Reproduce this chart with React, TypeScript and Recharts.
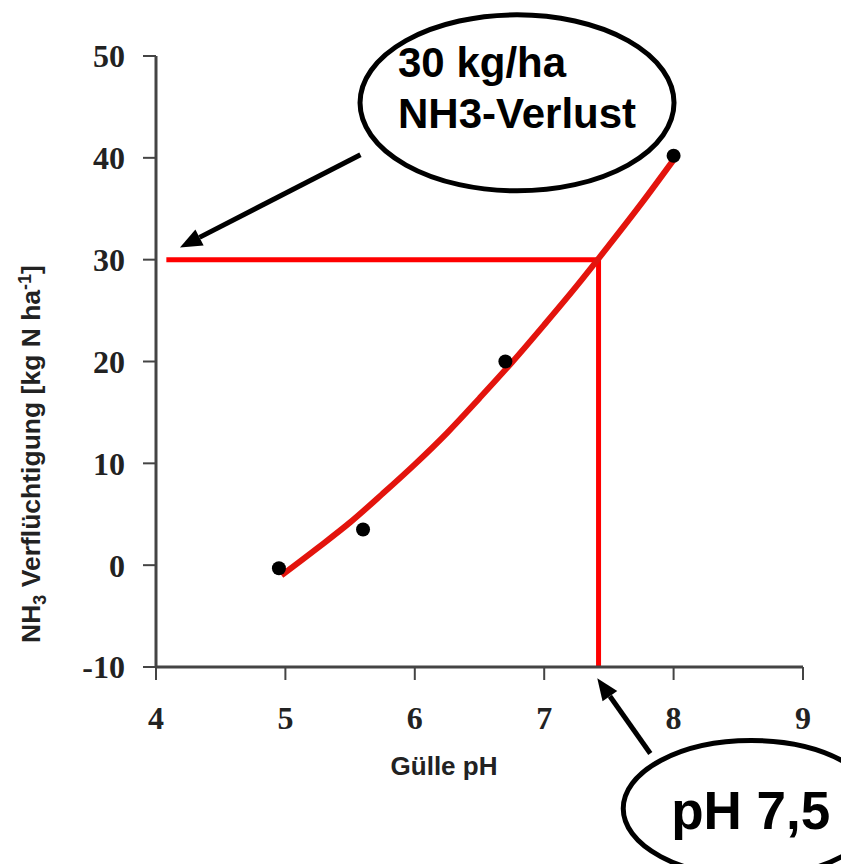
import React from 'react';
import {
  ComposedChart,
  Line,
  Scatter,
  XAxis,
  YAxis,
  ReferenceLine,
  ReferenceDot,
  Label,
} from 'recharts';

// ---- data ----
const xTicks = [4, 5, 6, 7, 8, 9];
const yTicks = [-10, 0, 10, 20, 30, 40, 50];

const measuredPH = [4.95, 5.6, 6.7, 8.0];
const measuredNH3 = [-0.3, 3.5, 20.0, 40.2];

const curvePH = [4.97, 5.25, 5.5, 5.75, 6.0, 6.25, 6.5, 6.75, 7.0, 7.25, 7.5, 7.75, 8.0];
const curveNH3 = [-1.0, 1.7, 4.2, 7.0, 9.9, 13.0, 16.4, 19.9, 23.6, 27.4, 31.4, 35.5, 39.8];

const targetPH = 7.42;
const targetNH3 = 30;
const guideStartPH = 4.08;

const lossNote = ['30 kg/ha', 'NH3-Verlust'];
const lossNoteAt = { x: 6.79, y: 45.4 };
const lossArrow = [{ x: 5.58, y: 40.3 }, { x: 4.185, y: 31.2 }];

const phNote = 'pH 7,5';
const phNoteAt = { x: 8.6, y: -23.9 };
const phArrow = [{ x: 7.82, y: -18.5 }, { x: 7.41, y: -11.1 }];

const xTitle = 'Gülle pH';

const curveData = curvePH.map((x, i) => ({ x, y: curveNH3[i] }));
const pointData = measuredPH.map((x, i) => ({ x, y: measuredNH3[i] }));

const SANS = '"Liberation Sans", Arial, sans-serif';
const SERIF = '"Liberation Serif", "Times New Roman", serif';
const AXIS = '#444';

const arrowShape = (props: any) => {
  const { x1, y1, x2, y2 } = props;
  const ang = Math.atan2(y2 - y1, x2 - x1);
  const len = 22;
  const half = 9;
  const bx = x2 - len * Math.cos(ang);
  const by = y2 - len * Math.sin(ang);
  const px = -Math.sin(ang) * half;
  const py = Math.cos(ang) * half;
  return (
    <g>
      <line x1={x1} y1={y1} x2={bx} y2={by} stroke="#000" strokeWidth={5} />
      <polygon points={`${x2},${y2} ${bx + px},${by + py} ${bx - px},${by - py}`} fill="#000" />
    </g>
  );
};

const lossBubble = (props: any) => {
  const { cx, cy } = props;
  return (
    <g>
      <ellipse cx={cx} cy={cy} rx={157} ry={88} fill="#fff" stroke="#000" strokeWidth={5} />
      <text x={cx - 119} y={cy - 26} fontFamily={SANS} fontWeight="bold" fontSize={42} fill="#000">
        {lossNote[0]}
      </text>
      <text x={cx - 119} y={cy + 25} fontFamily={SANS} fontWeight="bold" fontSize={42} fill="#000">
        {lossNote[1]}
      </text>
    </g>
  );
};

const phBubble = (props: any) => {
  const { cx, cy } = props;
  return (
    <g>
      <ellipse cx={cx} cy={cy} rx={128} ry={68} fill="#fff" stroke="#000" strokeWidth={5} />
      <text x={cx - 80} y={cy + 20} fontFamily={SANS} fontWeight="bold" fontSize={53} fill="#000">
        {phNote}
      </text>
    </g>
  );
};

const dotShape = (props: any) => <circle cx={props.cx} cy={props.cy} r={7} fill="#000" />;

export default function App() {
  return (
    <div style={{ position: 'absolute', left: 0, top: 0, background: '#fff' }}>
      <ComposedChart width={841} height={864} margin={{ top: 56, right: 38, bottom: 137, left: 0 }}>
        <XAxis
          dataKey="x"
          type="number"
          domain={[4, 9]}
          ticks={xTicks}
          allowDataOverflow
          height={60}
          axisLine={{ stroke: AXIS, strokeWidth: 3 }}
          tickLine={{ stroke: AXIS, strokeWidth: 2 }}
          tickSize={13}
          tickMargin={26}
          tick={{ fontFamily: SERIF, fontWeight: 'bold', fontSize: 32, fill: '#222' }}
        >
          <Label
            content={() => (
              <text x={444} y={775} textAnchor="middle" fontFamily={SANS} fontWeight="bold" fontSize={26} fill="#222">
                {xTitle}
              </text>
            )}
          />
        </XAxis>
        <YAxis
          type="number"
          domain={[-10, 50]}
          ticks={yTicks}
          allowDataOverflow
          width={156}
          axisLine={{ stroke: AXIS, strokeWidth: 3 }}
          tickLine={{ stroke: AXIS, strokeWidth: 2 }}
          tickSize={13}
          tickMargin={18}
          tick={{ fontFamily: SERIF, fontWeight: 'bold', fontSize: 32, fill: '#222' }}
        >
          <Label
            content={() => (
              <text
                transform="rotate(-90)"
                x={-454}
                y={40}
                textAnchor="middle"
                fontFamily={SANS}
                fontWeight="bold"
                fontSize={26.5}
                fill="#222"
              >
                <tspan>NH</tspan>
                <tspan fontSize={18} dy={6}>3</tspan>
                <tspan dy={-6}> Verflüchtigung [kg N ha</tspan>
                <tspan fontSize={18} dy={-9}>-1</tspan>
                <tspan dy={9}>]</tspan>
              </text>
            )}
          />
        </YAxis>

        <ReferenceLine
          segment={[{ x: guideStartPH, y: targetNH3 }, { x: targetPH, y: targetNH3 }]}
          stroke="#ff0000"
          strokeWidth={5}
          ifOverflow="visible"
        />
        <ReferenceLine
          segment={[{ x: targetPH, y: targetNH3 }, { x: targetPH, y: -10 }]}
          stroke="#ff0000"
          strokeWidth={5}
          ifOverflow="visible"
        />

        <Line
          data={curveData}
          dataKey="y"
          type="monotone"
          stroke="#e3140d"
          strokeWidth={6}
          dot={false}
          activeDot={false}
          isAnimationActive={false}
        />
        <Scatter data={pointData} dataKey="y" fill="#000" shape={dotShape} isAnimationActive={false} />

        <ReferenceLine segment={lossArrow} ifOverflow="visible" shape={arrowShape} />
        <ReferenceLine segment={phArrow} ifOverflow="visible" shape={arrowShape} />
        <ReferenceDot x={lossNoteAt.x} y={lossNoteAt.y} ifOverflow="visible" shape={lossBubble} />
        <ReferenceDot x={phNoteAt.x} y={phNoteAt.y} ifOverflow="visible" shape={phBubble} />
      </ComposedChart>
    </div>
  );
}
